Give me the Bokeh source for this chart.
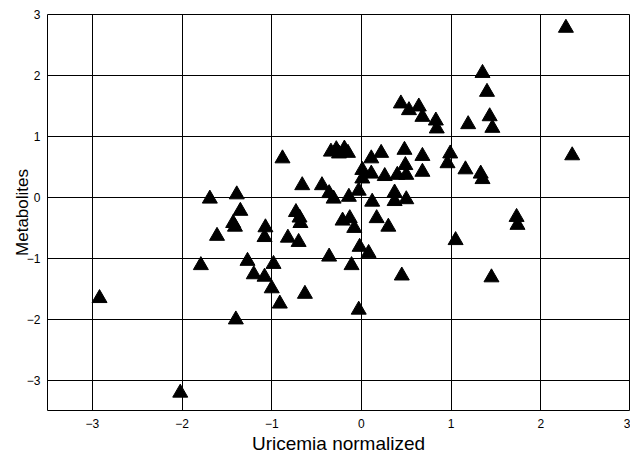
from bokeh.plotting import figure
from bokeh.models import FixedTicker, Range1d, Div
from bokeh.layouts import column
from bokeh.embed import file_html
from bokeh.resources import INLINE

# Uricemia normalized (x) and Metabolites (y)
uricemia = [
    -2.92, -2.02, 2.28, 2.35, -0.88, -0.66, -1.69, -1.39, -1.35, -1.43,
    -1.41, -1.61, -1.07, -1.08, -0.82, -0.73, -0.69, -0.68, -0.70, -1.79,
    -1.27, -0.98, -1.20, -1.08, -1.00, -0.91, -0.63, -1.40, -0.34, -0.28,
    -0.19, -0.15, -0.25, 0.11, 0.22, 0.48, 0.68, 0.01, 0.01, 0.11,
    0.26, 0.40, 0.49, 0.50, 0.68, -0.44, -0.36, -0.31, -0.14, -0.03,
    0.12, 0.37, 0.37, 0.50, -0.21, -0.13, -0.08, 0.17, 0.30, -0.02,
    0.08, -0.36, -0.11, 0.45, -0.03, 1.35, 1.40, 0.44, 0.53, 0.64,
    0.68, 0.83, 0.84, 1.19, 1.43, 1.46, 0.99, 0.96, 1.16, 1.33,
    1.35, 1.73, 1.74, 1.05, 1.45,
]
metabolites = [
    -1.65, -3.20, 2.78, 0.69, 0.64, 0.20, -0.02, 0.05, -0.22, -0.42,
    -0.48, -0.63, -0.49, -0.65, -0.66, -0.24, -0.33, -0.42, -0.73, -1.11,
    -1.04, -1.09, -1.26, -1.30, -1.49, -1.74, -1.58, -2.00, 0.75, 0.79,
    0.80, 0.73, 0.72, 0.64, 0.73, 0.78, 0.68, 0.45, 0.31, 0.39,
    0.35, 0.37, 0.53, 0.37, 0.42, 0.20, 0.07, -0.02, 0.01, 0.11,
    -0.07, 0.08, -0.06, -0.03, -0.38, -0.34, -0.50, -0.34, -0.48, -0.81,
    -0.91, -0.97, -1.11, -1.28, -1.84, 2.04, 1.73, 1.54, 1.43, 1.49,
    1.32, 1.26, 1.13, 1.20, 1.33, 1.14, 0.72, 0.56, 0.46, 0.39,
    0.30, -0.32, -0.45, -0.70, -1.31,
]
x_ticks = [-3, -2, -1, 0, 1, 2, 3]
y_ticks = [-3, -2, -1, 0, 1, 2, 3]
x_label = "Uricemia normalized"
y_label = "Metabolites"

FONT = "Liberation Sans"

p = figure(width=630, height=433, output_backend="svg", toolbar_location=None,
           x_range=Range1d(-3.5, 3.0), y_range=Range1d(-3.49, 3.0),
           min_border_left=47, min_border_right=0, min_border_top=14,
           min_border_bottom=23, margin=(0, 0, 0, 0))
p.background_fill_color = "white"
p.border_fill_color = "white"
p.outline_line_color = "black"
p.outline_line_width = 1

p.scatter(uricemia, metabolites, marker="triangle", size=15,
          fill_color="black", line_color="black")

for ax, ticks in ((p.xaxis, x_ticks), (p.yaxis, y_ticks)):
    ax.ticker = FixedTicker(ticks=ticks)
    ax.axis_line_color = None
    ax.major_tick_line_color = None
    ax.minor_tick_line_color = None
    ax.major_tick_out = 0
    ax.major_tick_in = 0
    ax.major_label_text_font = FONT
    ax.major_label_text_font_size = "12px"
    ax.major_label_text_color = "black"
    ax.axis_label_text_font = FONT
    ax.axis_label_text_font_style = "normal"
    ax.axis_label_text_color = "black"

p.xaxis.major_label_standoff = 8
p.yaxis.axis_label = y_label
p.yaxis.axis_label_text_font_size = "17px"
p.yaxis.major_label_standoff = 7
p.yaxis.axis_label_standoff = -8

for g in (p.xgrid, p.ygrid):
    g.grid_line_color = "black"
    g.grid_line_width = 1
    g.grid_line_alpha = 1.0
p.xgrid.ticker = FixedTicker(ticks=x_ticks)
p.ygrid.ticker = FixedTicker(ticks=y_ticks)

# x-axis title, centred under the plot frame
xtitle = Div(text=x_label, width=583, height=22, margin=(0, 0, 0, 47),
             styles={"font-family": FONT, "font-size": "19px",
                     "line-height": "21px", "text-align": "center",
                     "color": "black", "width": "583px",
                     "white-space": "nowrap"})

layout = column(p, xtitle, spacing=0, margin=(0, 0, 0, 0))

open("out.html", "w").write(file_html(layout, INLINE))
